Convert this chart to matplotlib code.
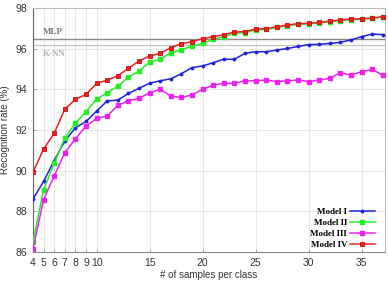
import matplotlib
matplotlib.use("Agg")
import matplotlib.pyplot as plt

samples = list(range(4, 38))

model_1 = [88.6, 89.47, 90.5, 91.45, 92.11, 92.42, 92.93, 93.43, 93.47, 93.8, 94.05, 94.3,
           94.42, 94.52, 94.77, 95.07, 95.15, 95.31, 95.48, 95.48, 95.77, 95.85, 95.85, 95.93,
           96.01, 96.11, 96.2, 96.21, 96.26, 96.31, 96.43, 96.59, 96.72, 96.69]
model_2 = [86.48, 89.07, 90.36, 91.61, 92.33, 92.9, 93.52, 93.83, 94.16, 94.59, 94.9, 95.34,
           95.48, 95.8, 95.95, 96.12, 96.26, 96.46, 96.59, 96.75, 96.79, 96.92, 96.95, 97.05,
           97.13, 97.2, 97.22, 97.26, 97.33, 97.38, 97.43, 97.45, 97.49, 97.55]
model_3 = [86.15, 88.58, 89.74, 90.89, 91.56, 92.2, 92.57, 92.69, 93.21, 93.44, 93.56, 93.83,
           94.0, 93.67, 93.6, 93.73, 94.0, 94.21, 94.3, 94.3, 94.42, 94.42, 94.46, 94.38,
           94.42, 94.46, 94.38, 94.46, 94.54, 94.82, 94.7, 94.87, 94.98, 94.7]
model_4 = [89.92, 91.06, 91.84, 93.02, 93.51, 93.75, 94.29, 94.45, 94.67, 95.03, 95.39, 95.64,
           95.77, 96.05, 96.25, 96.34, 96.49, 96.59, 96.69, 96.82, 96.84, 96.97, 96.98, 97.08,
           97.16, 97.23, 97.25, 97.29, 97.36, 97.41, 97.46, 97.47, 97.51, 97.57]
mlp_rate = 96.5
knn_rate = 96.2

x_ticks = [4, 5, 6, 7, 8, 9, 10, 15, 20, 25, 30, 35]
y_ticks = [86, 88, 90, 92, 94, 96, 98]

fig = plt.figure(figsize=(3.88, 2.81), dpi=100)
ax = fig.add_axes([0.085, 0.103, 0.907, 0.8685])

ax.set_xlim(4, 37.2)
ax.set_ylim(86, 98)
ax.set_xticks(x_ticks)
ax.set_yticks(y_ticks)
ax.grid(True, color="#e4e4e4", linewidth=0.6)
ax.set_axisbelow(True)

ax.axhline(mlp_rate, color="#8a8a8a", linewidth=1.0, zorder=1.5)
ax.axhline(knn_rate, color="#c4c4c4", linewidth=0.9, zorder=1.5)
ax.text(4.9, mlp_rate + 0.13, "MLP", fontsize=6.5, family="Liberation Serif",
        fontweight="bold", color="#777777", va="bottom")
ax.text(4.9, knn_rate - 0.25, "K-NN", fontsize=6.5, family="Liberation Serif",
        fontweight="bold", color="#b0b0b0", va="top")

ax.plot(samples, model_1, color="#2020e0", marker=".", markersize=3.5, linewidth=1.1,
        label="Model I", zorder=3)
ax.plot(samples, model_2, color="#22ee22", marker="s", markersize=2.2, linewidth=1.1,
        label="Model II", zorder=3)
ax.plot(samples, model_3, color="#ee22ee", marker="s", markersize=2.8, linewidth=1.1,
        label="Model III", zorder=3)
ax.plot(samples, model_4, color="#ee2020", marker="s", markersize=3.2, linewidth=1.1,
        markeredgecolor="#c01010", markeredgewidth=0.6, label="Model IV", zorder=4)

leg = ax.legend(loc="lower right", bbox_to_anchor=(0.972, 0.012), markerfirst=False,
                frameon=False,
                prop={"family": "Liberation Serif", "weight": "bold", "size": 6.5},
                handlelength=2.8, handletextpad=0.3, labelspacing=0.3,
                borderaxespad=0.0, borderpad=0.0)

for s in ["top", "right"]:
    ax.spines[s].set_color("#bbbbbb")
ax.spines["left"].set_color("#666666")
ax.spines["bottom"].set_color("#888888")
for sp in ax.spines.values():
    sp.set_linewidth(0.8)

ax.tick_params(direction="in", length=2.5, width=0.6, colors="#999999",
               labelcolor="#333333", labelsize=7.5, pad=4)
ax.tick_params(axis="x", pad=4.5)
for lab in ax.get_xticklabels() + ax.get_yticklabels():
    lab.set_family("Liberation Sans")

ax.set_ylabel("Recognition rate (%)", fontsize=7, family="Liberation Sans",
              color="#333333", labelpad=4)
ax.set_xlabel("# of samples per class", fontsize=7, family="Liberation Sans",
              color="#333333", labelpad=1.5)

fig.savefig("out.png", dpi=100)
